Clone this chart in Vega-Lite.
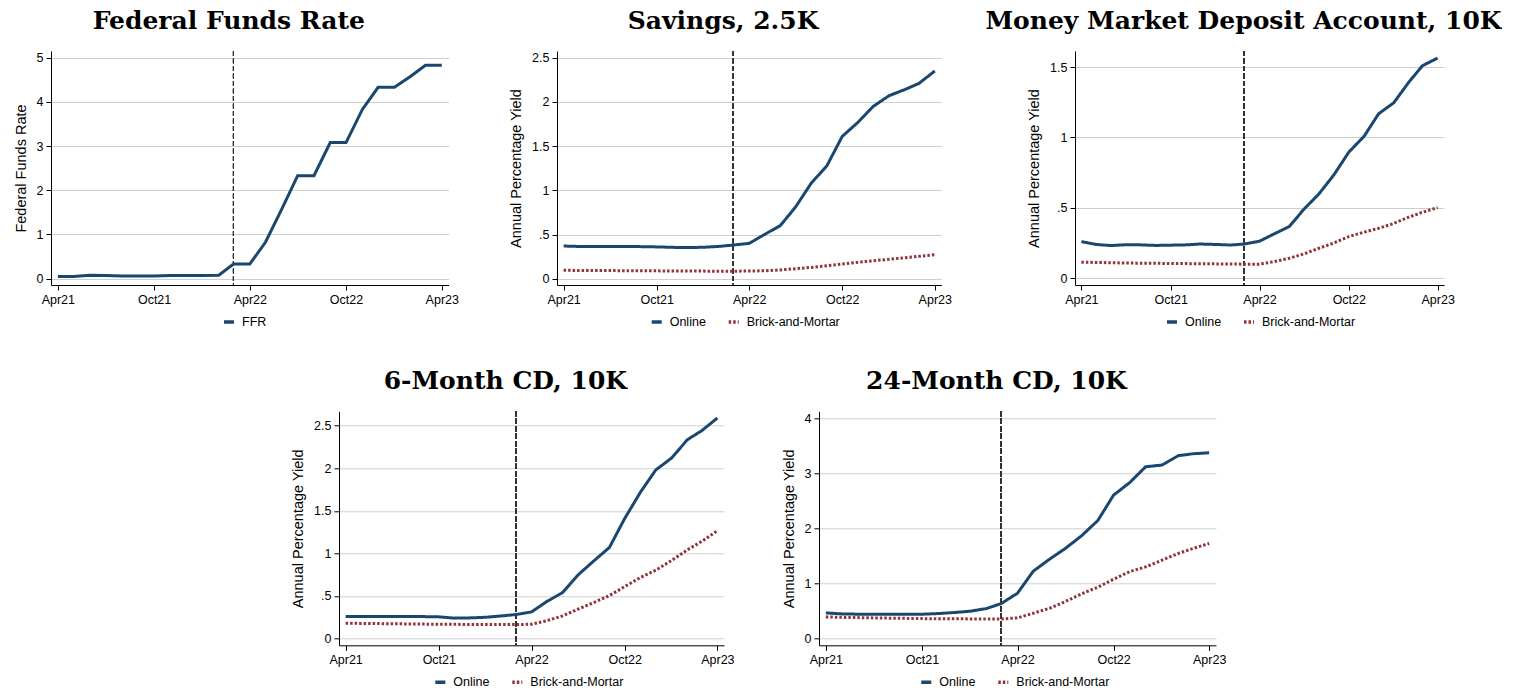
{
"$schema": "https://vega.github.io/schema/vega-lite/v6.json",
"background": "white",
"padding": {"left": 13, "top": 8, "right": 0, "bottom": 0},
"config": {
  "view": {"stroke": null},
  "font": "Liberation Sans",
  "title": {"font": "DejaVu Serif", "fontSize": 25, "fontWeight": "bold", "color": "#000", "anchor": "middle", "frame": "bounds", "offset": 17, "dx": -7},
  "axis": {"domainColor": "#000", "domainWidth": 1, "tickColor": "#000", "tickSize": 5, "tickWidth": 1, "labelFont": "Liberation Sans", "labelFontSize": 12.5, "labelColor": "#000", "labelPadding": 3, "titleFont": "Liberation Sans", "titleFontSize": 14.5, "titleFontWeight": "normal", "titleColor": "#000", "gridColor": "#cfcfcf", "gridWidth": 1},
  "axisX": {"grid": false, "labelAngle": 0, "labelFlush": false, "format": "%b%y"},
  "axisY": {"grid": true, "labelFlush": false, "titlePadding": 8, "labelExpr": "datum.value == 0.5 ? '.5' : format(datum.value, '~g')"},
  "legend": {"orient": "none", "direction": "horizontal", "symbolType": "stroke", "symbolStrokeWidth": 3.5, "symbolSize": 100, "labelFont": "Liberation Sans", "labelFontSize": 12.5, "labelColor": "#000", "labelOffset": 6, "columnPadding": 15, "padding": 0}
},
"datasets": {
  "ffr": [
    {"date":"2021-04-01","series":"FFR","value":0.05},{"date":"2021-05-01","series":"FFR","value":0.05},{"date":"2021-06-01","series":"FFR","value":0.08},{"date":"2021-07-01","series":"FFR","value":0.07},{"date":"2021-08-01","series":"FFR","value":0.06},{"date":"2021-09-01","series":"FFR","value":0.06},{"date":"2021-10-01","series":"FFR","value":0.06},{"date":"2021-11-01","series":"FFR","value":0.07},{"date":"2021-12-01","series":"FFR","value":0.07},{"date":"2022-01-01","series":"FFR","value":0.07},{"date":"2022-02-01","series":"FFR","value":0.08},{"date":"2022-03-01","series":"FFR","value":0.33},{"date":"2022-04-01","series":"FFR","value":0.33},{"date":"2022-05-01","series":"FFR","value":0.83},{"date":"2022-06-01","series":"FFR","value":1.58},{"date":"2022-07-01","series":"FFR","value":2.33},{"date":"2022-08-01","series":"FFR","value":2.33},{"date":"2022-09-01","series":"FFR","value":3.08},{"date":"2022-10-01","series":"FFR","value":3.08},{"date":"2022-11-01","series":"FFR","value":3.83},{"date":"2022-12-01","series":"FFR","value":4.33},{"date":"2023-01-01","series":"FFR","value":4.33},{"date":"2023-02-01","series":"FFR","value":4.58},{"date":"2023-03-01","series":"FFR","value":4.83},{"date":"2023-04-01","series":"FFR","value":4.83}
  ],
  "savings": [
    {"date":"2021-04-01","series":"Online","value":0.37},{"date":"2021-05-01","series":"Online","value":0.365},{"date":"2021-06-01","series":"Online","value":0.365},{"date":"2021-07-01","series":"Online","value":0.365},{"date":"2021-08-01","series":"Online","value":0.365},{"date":"2021-09-01","series":"Online","value":0.363},{"date":"2021-10-01","series":"Online","value":0.36},{"date":"2021-11-01","series":"Online","value":0.355},{"date":"2021-12-01","series":"Online","value":0.352},{"date":"2022-01-01","series":"Online","value":0.356},{"date":"2022-02-01","series":"Online","value":0.366},{"date":"2022-03-01","series":"Online","value":0.381},{"date":"2022-04-01","series":"Online","value":0.40},{"date":"2022-05-01","series":"Online","value":0.50},{"date":"2022-06-01","series":"Online","value":0.60},{"date":"2022-07-01","series":"Online","value":0.81},{"date":"2022-08-01","series":"Online","value":1.08},{"date":"2022-09-01","series":"Online","value":1.28},{"date":"2022-10-01","series":"Online","value":1.61},{"date":"2022-11-01","series":"Online","value":1.77},{"date":"2022-12-01","series":"Online","value":1.95},{"date":"2023-01-01","series":"Online","value":2.07},{"date":"2023-02-01","series":"Online","value":2.14},{"date":"2023-03-01","series":"Online","value":2.21},{"date":"2023-04-01","series":"Online","value":2.35},
    {"date":"2021-04-01","series":"Brick-and-Mortar","value":0.095},{"date":"2021-05-01","series":"Brick-and-Mortar","value":0.094},{"date":"2021-06-01","series":"Brick-and-Mortar","value":0.093},{"date":"2021-07-01","series":"Brick-and-Mortar","value":0.092},{"date":"2021-08-01","series":"Brick-and-Mortar","value":0.091},{"date":"2021-09-01","series":"Brick-and-Mortar","value":0.09},{"date":"2021-10-01","series":"Brick-and-Mortar","value":0.089},{"date":"2021-11-01","series":"Brick-and-Mortar","value":0.088},{"date":"2021-12-01","series":"Brick-and-Mortar","value":0.087},{"date":"2022-01-01","series":"Brick-and-Mortar","value":0.086},{"date":"2022-02-01","series":"Brick-and-Mortar","value":0.085},{"date":"2022-03-01","series":"Brick-and-Mortar","value":0.085},{"date":"2022-04-01","series":"Brick-and-Mortar","value":0.087},{"date":"2022-05-01","series":"Brick-and-Mortar","value":0.09},{"date":"2022-06-01","series":"Brick-and-Mortar","value":0.10},{"date":"2022-07-01","series":"Brick-and-Mortar","value":0.113},{"date":"2022-08-01","series":"Brick-and-Mortar","value":0.128},{"date":"2022-09-01","series":"Brick-and-Mortar","value":0.147},{"date":"2022-10-01","series":"Brick-and-Mortar","value":0.166},{"date":"2022-11-01","series":"Brick-and-Mortar","value":0.185},{"date":"2022-12-01","series":"Brick-and-Mortar","value":0.204},{"date":"2023-01-01","series":"Brick-and-Mortar","value":0.219},{"date":"2023-02-01","series":"Brick-and-Mortar","value":0.238},{"date":"2023-03-01","series":"Brick-and-Mortar","value":0.253},{"date":"2023-04-01","series":"Brick-and-Mortar","value":0.272}
  ],
  "mmda": [
    {"date":"2021-04-01","series":"Online","value":0.26},{"date":"2021-05-01","series":"Online","value":0.24},{"date":"2021-06-01","series":"Online","value":0.232},{"date":"2021-07-01","series":"Online","value":0.238},{"date":"2021-08-01","series":"Online","value":0.237},{"date":"2021-09-01","series":"Online","value":0.233},{"date":"2021-10-01","series":"Online","value":0.235},{"date":"2021-11-01","series":"Online","value":0.237},{"date":"2021-12-01","series":"Online","value":0.243},{"date":"2022-01-01","series":"Online","value":0.24},{"date":"2022-02-01","series":"Online","value":0.236},{"date":"2022-03-01","series":"Online","value":0.243},{"date":"2022-04-01","series":"Online","value":0.263},{"date":"2022-05-01","series":"Online","value":0.315},{"date":"2022-06-01","series":"Online","value":0.367},{"date":"2022-07-01","series":"Online","value":0.49},{"date":"2022-08-01","series":"Online","value":0.60},{"date":"2022-09-01","series":"Online","value":0.737},{"date":"2022-10-01","series":"Online","value":0.896},{"date":"2022-11-01","series":"Online","value":1.007},{"date":"2022-12-01","series":"Online","value":1.168},{"date":"2023-01-01","series":"Online","value":1.246},{"date":"2023-02-01","series":"Online","value":1.393},{"date":"2023-03-01","series":"Online","value":1.51},{"date":"2023-04-01","series":"Online","value":1.564},
    {"date":"2021-04-01","series":"Brick-and-Mortar","value":0.114},{"date":"2021-05-01","series":"Brick-and-Mortar","value":0.112},{"date":"2021-06-01","series":"Brick-and-Mortar","value":0.11},{"date":"2021-07-01","series":"Brick-and-Mortar","value":0.108},{"date":"2021-08-01","series":"Brick-and-Mortar","value":0.107},{"date":"2021-09-01","series":"Brick-and-Mortar","value":0.106},{"date":"2021-10-01","series":"Brick-and-Mortar","value":0.105},{"date":"2021-11-01","series":"Brick-and-Mortar","value":0.104},{"date":"2021-12-01","series":"Brick-and-Mortar","value":0.103},{"date":"2022-01-01","series":"Brick-and-Mortar","value":0.102},{"date":"2022-02-01","series":"Brick-and-Mortar","value":0.101},{"date":"2022-03-01","series":"Brick-and-Mortar","value":0.10},{"date":"2022-04-01","series":"Brick-and-Mortar","value":0.10},{"date":"2022-05-01","series":"Brick-and-Mortar","value":0.118},{"date":"2022-06-01","series":"Brick-and-Mortar","value":0.142},{"date":"2022-07-01","series":"Brick-and-Mortar","value":0.173},{"date":"2022-08-01","series":"Brick-and-Mortar","value":0.213},{"date":"2022-09-01","series":"Brick-and-Mortar","value":0.251},{"date":"2022-10-01","series":"Brick-and-Mortar","value":0.296},{"date":"2022-11-01","series":"Brick-and-Mortar","value":0.327},{"date":"2022-12-01","series":"Brick-and-Mortar","value":0.355},{"date":"2023-01-01","series":"Brick-and-Mortar","value":0.389},{"date":"2023-02-01","series":"Brick-and-Mortar","value":0.434},{"date":"2023-03-01","series":"Brick-and-Mortar","value":0.469},{"date":"2023-04-01","series":"Brick-and-Mortar","value":0.502}
  ],
  "cd6": [
    {"date":"2021-04-01","series":"Online","value":0.26},{"date":"2021-05-01","series":"Online","value":0.26},{"date":"2021-06-01","series":"Online","value":0.26},{"date":"2021-07-01","series":"Online","value":0.258},{"date":"2021-08-01","series":"Online","value":0.258},{"date":"2021-09-01","series":"Online","value":0.258},{"date":"2021-10-01","series":"Online","value":0.255},{"date":"2021-11-01","series":"Online","value":0.24},{"date":"2021-12-01","series":"Online","value":0.243},{"date":"2022-01-01","series":"Online","value":0.25},{"date":"2022-02-01","series":"Online","value":0.266},{"date":"2022-03-01","series":"Online","value":0.282},{"date":"2022-04-01","series":"Online","value":0.313},{"date":"2022-05-01","series":"Online","value":0.435},{"date":"2022-06-01","series":"Online","value":0.54},{"date":"2022-07-01","series":"Online","value":0.745},{"date":"2022-08-01","series":"Online","value":0.91},{"date":"2022-09-01","series":"Online","value":1.07},{"date":"2022-10-01","series":"Online","value":1.41},{"date":"2022-11-01","series":"Online","value":1.72},{"date":"2022-12-01","series":"Online","value":1.98},{"date":"2023-01-01","series":"Online","value":2.12},{"date":"2023-02-01","series":"Online","value":2.335},{"date":"2023-03-01","series":"Online","value":2.44},{"date":"2023-04-01","series":"Online","value":2.59},
    {"date":"2021-04-01","series":"Brick-and-Mortar","value":0.18},{"date":"2021-05-01","series":"Brick-and-Mortar","value":0.178},{"date":"2021-06-01","series":"Brick-and-Mortar","value":0.176},{"date":"2021-07-01","series":"Brick-and-Mortar","value":0.174},{"date":"2021-08-01","series":"Brick-and-Mortar","value":0.172},{"date":"2021-09-01","series":"Brick-and-Mortar","value":0.17},{"date":"2021-10-01","series":"Brick-and-Mortar","value":0.168},{"date":"2021-11-01","series":"Brick-and-Mortar","value":0.167},{"date":"2021-12-01","series":"Brick-and-Mortar","value":0.166},{"date":"2022-01-01","series":"Brick-and-Mortar","value":0.166},{"date":"2022-02-01","series":"Brick-and-Mortar","value":0.165},{"date":"2022-03-01","series":"Brick-and-Mortar","value":0.165},{"date":"2022-04-01","series":"Brick-and-Mortar","value":0.168},{"date":"2022-05-01","series":"Brick-and-Mortar","value":0.21},{"date":"2022-06-01","series":"Brick-and-Mortar","value":0.266},{"date":"2022-07-01","series":"Brick-and-Mortar","value":0.345},{"date":"2022-08-01","series":"Brick-and-Mortar","value":0.423},{"date":"2022-09-01","series":"Brick-and-Mortar","value":0.505},{"date":"2022-10-01","series":"Brick-and-Mortar","value":0.61},{"date":"2022-11-01","series":"Brick-and-Mortar","value":0.717},{"date":"2022-12-01","series":"Brick-and-Mortar","value":0.803},{"date":"2023-01-01","series":"Brick-and-Mortar","value":0.917},{"date":"2023-02-01","series":"Brick-and-Mortar","value":1.042},{"date":"2023-03-01","series":"Brick-and-Mortar","value":1.14},{"date":"2023-04-01","series":"Brick-and-Mortar","value":1.266}
  ],
  "cd24": [
    {"date":"2021-04-01","series":"Online","value":0.466},{"date":"2021-05-01","series":"Online","value":0.448},{"date":"2021-06-01","series":"Online","value":0.442},{"date":"2021-07-01","series":"Online","value":0.442},{"date":"2021-08-01","series":"Online","value":0.442},{"date":"2021-09-01","series":"Online","value":0.442},{"date":"2021-10-01","series":"Online","value":0.442},{"date":"2021-11-01","series":"Online","value":0.454},{"date":"2021-12-01","series":"Online","value":0.472},{"date":"2022-01-01","series":"Online","value":0.496},{"date":"2022-02-01","series":"Online","value":0.545},{"date":"2022-03-01","series":"Online","value":0.635},{"date":"2022-04-01","series":"Online","value":0.823},{"date":"2022-05-01","series":"Online","value":1.222},{"date":"2022-06-01","series":"Online","value":1.44},{"date":"2022-07-01","series":"Online","value":1.634},{"date":"2022-08-01","series":"Online","value":1.864},{"date":"2022-09-01","series":"Online","value":2.142},{"date":"2022-10-01","series":"Online","value":2.602},{"date":"2022-11-01","series":"Online","value":2.832},{"date":"2022-12-01","series":"Online","value":3.116},{"date":"2023-01-01","series":"Online","value":3.147},{"date":"2023-02-01","series":"Online","value":3.316},{"date":"2023-03-01","series":"Online","value":3.352},{"date":"2023-04-01","series":"Online","value":3.37},
    {"date":"2021-04-01","series":"Brick-and-Mortar","value":0.393},{"date":"2021-05-01","series":"Brick-and-Mortar","value":0.385},{"date":"2021-06-01","series":"Brick-and-Mortar","value":0.38},{"date":"2021-07-01","series":"Brick-and-Mortar","value":0.375},{"date":"2021-08-01","series":"Brick-and-Mortar","value":0.37},{"date":"2021-09-01","series":"Brick-and-Mortar","value":0.366},{"date":"2021-10-01","series":"Brick-and-Mortar","value":0.362},{"date":"2021-11-01","series":"Brick-and-Mortar","value":0.36},{"date":"2021-12-01","series":"Brick-and-Mortar","value":0.358},{"date":"2022-01-01","series":"Brick-and-Mortar","value":0.357},{"date":"2022-02-01","series":"Brick-and-Mortar","value":0.356},{"date":"2022-03-01","series":"Brick-and-Mortar","value":0.356},{"date":"2022-04-01","series":"Brick-and-Mortar","value":0.375},{"date":"2022-05-01","series":"Brick-and-Mortar","value":0.46},{"date":"2022-06-01","series":"Brick-and-Mortar","value":0.55},{"date":"2022-07-01","series":"Brick-and-Mortar","value":0.672},{"date":"2022-08-01","series":"Brick-and-Mortar","value":0.81},{"date":"2022-09-01","series":"Brick-and-Mortar","value":0.932},{"date":"2022-10-01","series":"Brick-and-Mortar","value":1.077},{"date":"2022-11-01","series":"Brick-and-Mortar","value":1.216},{"date":"2022-12-01","series":"Brick-and-Mortar","value":1.30},{"date":"2023-01-01","series":"Brick-and-Mortar","value":1.422},{"date":"2023-02-01","series":"Brick-and-Mortar","value":1.543},{"date":"2023-03-01","series":"Brick-and-Mortar","value":1.634},{"date":"2023-04-01","series":"Brick-and-Mortar","value":1.725}
  ]
},
"bounds": "flush",
"spacing": 360.3,
"resolve": {"scale": {"color": "independent", "strokeDash": "independent"}},
"vconcat": [
  {
    "bounds": "flush",
    "spacing": 0,
    "resolve": {"scale": {"color": "independent", "strokeDash": "independent"}},
    "hconcat": [
      {
        "title": "Federal Funds Rate",
        "width": 397.6, "height": 234,
        "data": {"name": "ffr"},
        "layer": [
          {"mark": {"type": "rule", "color": "#333", "strokeWidth": 1, "strokeDash": [5, 2.5]},
           "encoding": {"x": {"datum": {"year": 2022, "month": 3, "date": 1, "utc": true}, "type": "temporal"}}},
          {"mark": {"type": "line", "strokeWidth": 3, "strokeCap": "butt"},
           "encoding": {
             "x": {"field": "date", "type": "temporal", "scale": {"type": "utc", "domain": [{"year": 2021, "month": 3, "date": 19, "utc": true}, {"year": 2023, "month": 4, "date": 14, "utc": true}]}, "axis": {"title": null, "values": [{"year": 2021, "month": 4, "date": 1, "utc": true}, {"year": 2021, "month": 10, "date": 1, "utc": true}, {"year": 2022, "month": 4, "date": 1, "utc": true}, {"year": 2022, "month": 10, "date": 1, "utc": true}, {"year": 2023, "month": 4, "date": 1, "utc": true}]}},
             "y": {"field": "value", "type": "quantitative", "scale": {"domain": [-0.143, 5.152], "nice": false, "zero": false}, "axis": {"title": "Federal Funds Rate", "values": [0, 1, 2, 3, 4, 5]}},
             "color": {"field": "series", "type": "nominal", "scale": {"domain": ["FFR"], "range": ["#1a476f"]}, "legend": {"title": null, "legendX": 171, "legendY": 264}}
           }}
        ]
      },
      {"width": 108, "height": 234, "data": {"values": []}, "mark": "point"},
      {
        "title": "Savings, 2.5K",
        "width": 384.4, "height": 234,
        "data": {"name": "savings"},
        "layer": [
          {"mark": {"type": "rule", "color": "#333", "strokeWidth": 1, "strokeDash": [5, 2.5]},
           "encoding": {"x": {"datum": {"year": 2022, "month": 3, "date": 1, "utc": true}, "type": "temporal"}}},
          {"mark": {"type": "line", "strokeWidth": 3, "strokeCap": "butt"},
           "encoding": {
             "x": {"field": "date", "type": "temporal", "scale": {"type": "utc", "domain": [{"year": 2021, "month": 3, "date": 19, "utc": true}, {"year": 2023, "month": 4, "date": 14, "utc": true}]}, "axis": {"title": null, "values": [{"year": 2021, "month": 4, "date": 1, "utc": true}, {"year": 2021, "month": 10, "date": 1, "utc": true}, {"year": 2022, "month": 4, "date": 1, "utc": true}, {"year": 2022, "month": 10, "date": 1, "utc": true}, {"year": 2023, "month": 4, "date": 1, "utc": true}]}},
             "y": {"field": "value", "type": "quantitative", "scale": {"domain": [-0.071, 2.576], "nice": false, "zero": false}, "axis": {"title": "Annual Percentage Yield", "values": [0, 0.5, 1, 1.5, 2, 2.5]}},
             "color": {"field": "series", "type": "nominal", "scale": {"domain": ["Online", "Brick-and-Mortar"], "range": ["#1a476f", "#90353b"]}, "legend": {"title": null, "legendX": 92.7, "legendY": 264}},
             "strokeDash": {"field": "series", "type": "nominal", "scale": {"domain": ["Online", "Brick-and-Mortar"], "range": [[1, 0], [2.5, 2]]}, "legend": {"title": null, "legendX": 92.7, "legendY": 264}}
           }}
        ]
      },
      {"width": 132.6, "height": 234, "data": {"values": []}, "mark": "point"},
      {
        "title": {"text": "Money Market Deposit Account, 10K", "dx": 3},
        "width": 369, "height": 234,
        "data": {"name": "mmda"},
        "layer": [
          {"mark": {"type": "rule", "color": "#333", "strokeWidth": 1, "strokeDash": [5, 2.5]},
           "encoding": {"x": {"datum": {"year": 2022, "month": 3, "date": 1, "utc": true}, "type": "temporal"}}},
          {"mark": {"type": "line", "strokeWidth": 3, "strokeCap": "butt"},
           "encoding": {
             "x": {"field": "date", "type": "temporal", "scale": {"type": "utc", "domain": [{"year": 2021, "month": 3, "date": 19, "utc": true}, {"year": 2023, "month": 4, "date": 14, "utc": true}]}, "axis": {"title": null, "values": [{"year": 2021, "month": 4, "date": 1, "utc": true}, {"year": 2021, "month": 10, "date": 1, "utc": true}, {"year": 2022, "month": 4, "date": 1, "utc": true}, {"year": 2022, "month": 10, "date": 1, "utc": true}, {"year": 2023, "month": 4, "date": 1, "utc": true}]}},
             "y": {"field": "value", "type": "quantitative", "scale": {"domain": [-0.048, 1.614], "nice": false, "zero": false}, "axis": {"title": "Annual Percentage Yield", "values": [0, 0.5, 1, 1.5]}},
             "color": {"field": "series", "type": "nominal", "scale": {"domain": ["Online", "Brick-and-Mortar"], "range": ["#1a476f", "#90353b"]}, "legend": {"title": null, "legendX": 90, "legendY": 264}},
             "strokeDash": {"field": "series", "type": "nominal", "scale": {"domain": ["Online", "Brick-and-Mortar"], "range": [[1, 0], [2.5, 2]]}, "legend": {"title": null, "legendX": 90, "legendY": 264}}
           }}
        ]
      }
    ]
  },
  {
    "bounds": "flush",
    "spacing": 0,
    "resolve": {"scale": {"color": "independent", "strokeDash": "independent"}},
    "hconcat": [
      {"width": 287.3, "height": 234, "data": {"values": []}, "mark": "point"},
      {
        "title": "6-Month CD, 10K",
        "width": 385, "height": 234,
        "data": {"name": "cd6"},
        "layer": [
          {"mark": {"type": "rule", "color": "#333", "strokeWidth": 1, "strokeDash": [5, 2.5]},
           "encoding": {"x": {"datum": {"year": 2022, "month": 3, "date": 1, "utc": true}, "type": "temporal"}}},
          {"mark": {"type": "line", "strokeWidth": 3, "strokeCap": "butt"},
           "encoding": {
             "x": {"field": "date", "type": "temporal", "scale": {"type": "utc", "domain": [{"year": 2021, "month": 3, "date": 19, "utc": true}, {"year": 2023, "month": 4, "date": 14, "utc": true}]}, "axis": {"title": null, "values": [{"year": 2021, "month": 4, "date": 1, "utc": true}, {"year": 2021, "month": 10, "date": 1, "utc": true}, {"year": 2022, "month": 4, "date": 1, "utc": true}, {"year": 2022, "month": 10, "date": 1, "utc": true}, {"year": 2023, "month": 4, "date": 1, "utc": true}]}},
             "y": {"field": "value", "type": "quantitative", "scale": {"domain": [-0.079, 2.669], "nice": false, "zero": false}, "axis": {"title": "Annual Percentage Yield", "values": [0, 0.5, 1, 1.5, 2, 2.5]}},
             "color": {"field": "series", "type": "nominal", "scale": {"domain": ["Online", "Brick-and-Mortar"], "range": ["#1a476f", "#90353b"]}, "legend": {"title": null, "legendX": 94.3, "legendY": 264}},
             "strokeDash": {"field": "series", "type": "nominal", "scale": {"domain": ["Online", "Brick-and-Mortar"], "range": [[1, 0], [2.5, 2]]}, "legend": {"title": null, "legendX": 94.3, "legendY": 264}}
           }}
        ]
      },
      {"width": 95, "height": 234, "data": {"values": []}, "mark": "point"},
      {
        "title": "24-Month CD, 10K",
        "width": 397, "height": 234,
        "data": {"name": "cd24"},
        "layer": [
          {"mark": {"type": "rule", "color": "#333", "strokeWidth": 1, "strokeDash": [5, 2.5]},
           "encoding": {"x": {"datum": {"year": 2022, "month": 3, "date": 1, "utc": true}, "type": "temporal"}}},
          {"mark": {"type": "line", "strokeWidth": 3, "strokeCap": "butt"},
           "encoding": {
             "x": {"field": "date", "type": "temporal", "scale": {"type": "utc", "domain": [{"year": 2021, "month": 3, "date": 19, "utc": true}, {"year": 2023, "month": 4, "date": 14, "utc": true}]}, "axis": {"title": null, "values": [{"year": 2021, "month": 4, "date": 1, "utc": true}, {"year": 2021, "month": 10, "date": 1, "utc": true}, {"year": 2022, "month": 4, "date": 1, "utc": true}, {"year": 2022, "month": 10, "date": 1, "utc": true}, {"year": 2023, "month": 4, "date": 1, "utc": true}]}},
             "y": {"field": "value", "type": "quantitative", "scale": {"domain": [-0.122, 4.122], "nice": false, "zero": false}, "axis": {"title": "Annual Percentage Yield", "values": [0, 1, 2, 3, 4]}},
             "color": {"field": "series", "type": "nominal", "scale": {"domain": ["Online", "Brick-and-Mortar"], "range": ["#1a476f", "#90353b"]}, "legend": {"title": null, "legendX": 100.3, "legendY": 264}},
             "strokeDash": {"field": "series", "type": "nominal", "scale": {"domain": ["Online", "Brick-and-Mortar"], "range": [[1, 0], [2.5, 2]]}, "legend": {"title": null, "legendX": 100.3, "legendY": 264}}
           }}
        ]
      }
    ]
  }
]
}
